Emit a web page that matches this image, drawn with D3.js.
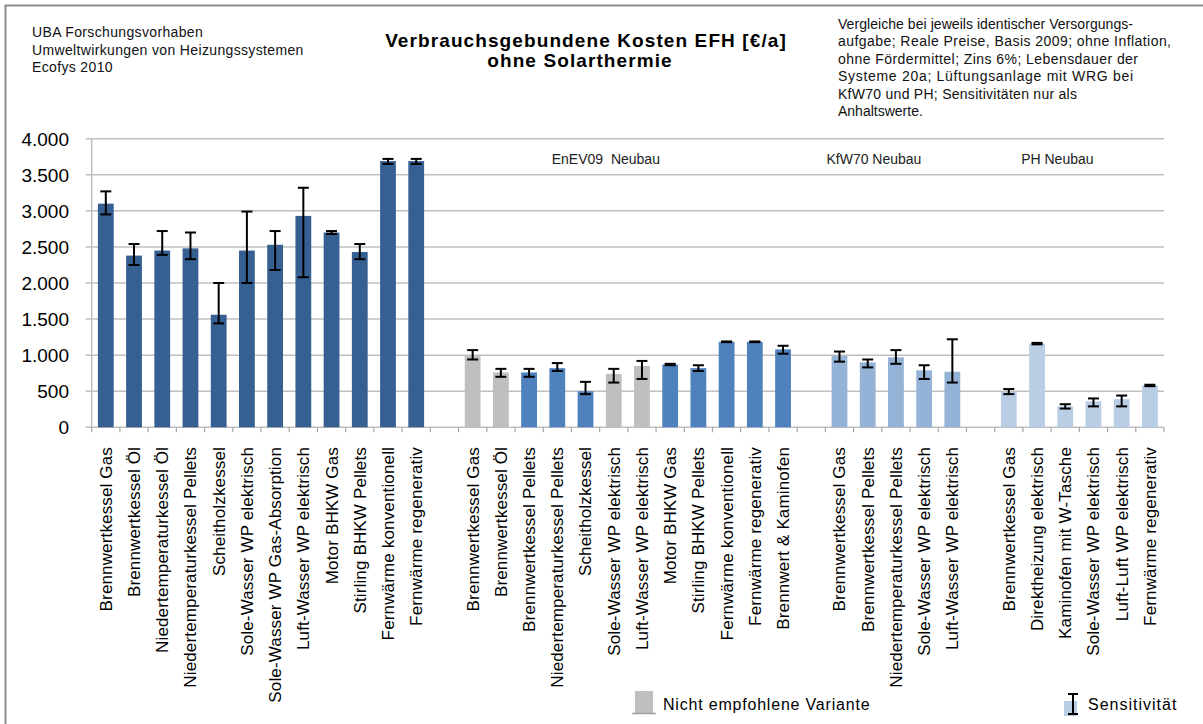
<!DOCTYPE html>
<html lang="de">
<head>
<meta charset="utf-8">
<title>Verbrauchsgebundene Kosten EFH</title>
<script src="https://cdn.jsdelivr.net/npm/d3@7"></script>
<style>
  body { margin: 0; background: #fff; }
  svg { display: block; font-family: "Liberation Sans", Arial, sans-serif; }
</style>
</head>
<body>
<div id="chart"></div>
<script>
// Bestand (erste Gruppe, ohne Überschrift)
const bestandNamen = ["Brennwertkessel Gas", "Brennwertkessel Öl", "Niedertemperaturkessel Öl",
  "Niedertemperaturkessel Pellets", "Scheitholzkessel", "Sole-Wasser WP elektrisch",
  "Sole-Wasser WP Gas-Absorption", "Luft-Wasser WP elektrisch", "Motor BHKW Gas",
  "Stirling BHKW  Pellets", "Fernwärme konventionell", "Fernwärme regenerativ"];
const bestandWerte = [3100, 2380, 2450, 2480, 1560, 2450, 2530, 2930, 2700, 2430, 3690, 3690];
const bestandOben  = [3270, 2540, 2720, 2700, 2000, 2990, 2720, 3320, 2720, 2540, 3720, 3720];
const bestandUnten = [2950, 2250, 2390, 2330, 1440, 2000, 2180, 2080, 2680, 2330, 3650, 3650];

// EnEV09 Neubau
const enevNamen = ["Brennwertkessel Gas", "Brennwertkessel Öl", "Brennwertkessel Pellets",
  "Niedertemperaturkessel Pellets", "Scheitholzkessel", "Sole-Wasser WP elektrisch",
  "Luft-Wasser WP elektrisch", "Motor BHKW Gas", "Stirling BHKW  Pellets",
  "Fernwärme konventionell", "Fernwärme regenerativ", "Brennwert & Kaminofen"];
const enevWerte = [1000, 760, 760, 820, 500, 740, 850, 870, 820, 1185, 1185, 1080];
const enevOben  = [1070, 810, 810, 890, 630, 810, 920, 880, 860, 1190, 1190, 1130];
const enevUnten = [940, 700, 700, 780, 460, 620, 670, 860, 780, 1180, 1180, 1020];
const enevNichtEmpfohlen = [true, true, false, false, false, true, true, false, false, false, false, false];

// KfW70 Neubau
const kfwNamen = ["Brennwertkessel Gas", "Brennwertkessel Pellets", "Niedertemperaturkessel Pellets",
  "Sole-Wasser WP elektrisch", "Luft-Wasser WP elektrisch"];
const kfwWerte = [990, 900, 970, 790, 770];
const kfwOben  = [1050, 940, 1070, 860, 1220];
const kfwUnten = [910, 830, 880, 670, 620];

// PH Neubau
const phNamen = ["Brennwertkessel Gas", "Direktheizung elektrisch", "Kaminofen mit W-Tasche",
  "Sole-Wasser WP elektrisch", "Luft-Luft WP elektrisch", "Fernwärme regenerativ"];
const phWerte = [490, 1160, 290, 360, 390, 580];
const phOben  = [530, 1170, 320, 400, 440, 590];
const phUnten = [460, 1150, 260, 290, 290, 570];

const gruppenTitel = ["", "EnEV09  Neubau", "KfW70 Neubau", "PH Neubau"];
const yTicks = [0, 500, 1000, 1500, 2000, 2500, 3000, 3500, 4000];

const width = 1203, height = 724;
const pLeft = 91.7, pRight = 1164, pTop = 138.7, pBottom = 427.3;

const svg = d3.select("#chart").append("svg")
  .attr("width", width).attr("height", height);

// Rahmen
svg.append("rect")
  .attr("x", 5.5).attr("y", 5.5).attr("width", 1210).attr("height", 730)
  .attr("fill", "none").attr("stroke", "#8c8c8c").attr("stroke-width", 2);

// Flache Liste mit Lücken zwischen den Gruppen
const gruppen = [
  { namen: bestandNamen, werte: bestandWerte, oben: bestandOben, unten: bestandUnten, farbe: "#376092" },
  { namen: enevNamen, werte: enevWerte, oben: enevOben, unten: enevUnten, farbe: "#4f81bd", grau: enevNichtEmpfohlen },
  { namen: kfwNamen, werte: kfwWerte, oben: kfwOben, unten: kfwUnten, farbe: "#95b3d7" },
  { namen: phNamen, werte: phWerte, oben: phOben, unten: phUnten, farbe: "#b9cde5" }
];
const rows = [];
gruppen.forEach((g, gi) => {
  if (gi > 0) rows.push({ key: "gap" + gi, gap: true });
  g.namen.forEach((n, i) => rows.push({
    key: gi + "-" + i, gruppe: gi, name: n, wert: g.werte[i], oben: g.oben[i], unten: g.unten[i],
    farbe: g.grau && g.grau[i] ? "#bfbfbf" : g.farbe
  }));
});

const x = d3.scaleBand().domain(rows.map(d => d.key)).range([pLeft, pRight]).paddingInner(0.44).paddingOuter(0.22);
const y = d3.scaleLinear().domain([0, 4000]).range([pBottom, pTop]);
const fmt = d3.formatLocale({ decimal: ",", thousands: ".", grouping: [3], currency: ["", "€"] }).format(",");

// Gitter + y-Achse
svg.append("g").selectAll("line").data(yTicks).join("line")
  .attr("x1", pLeft - 6).attr("x2", pRight)
  .attr("y1", d => y(d)).attr("y2", d => y(d))
  .attr("stroke", "#c0c0c0").attr("stroke-width", 1.5);

svg.append("g").selectAll("text").data(yTicks).join("text")
  .attr("x", 69).attr("y", d => y(d)).attr("dy", "0.36em")
  .attr("text-anchor", "end").attr("font-size", 19).attr("fill", "#000")
  .text(d => fmt(d));

svg.append("line").attr("x1", pLeft).attr("x2", pLeft).attr("y1", pTop).attr("y2", pBottom)
  .attr("stroke", "#c0c0c0").attr("stroke-width", 1.5);

// x-Achse mit Teilstrichen an den Kategoriegrenzen
const grenzen = d3.range(rows.length + 1).map(i => pLeft + i * (pRight - pLeft) / rows.length);
svg.append("g").selectAll("line").data(grenzen).join("line")
  .attr("x1", d => d).attr("x2", d => d).attr("y1", pBottom).attr("y2", pBottom + 5)
  .attr("stroke", "#a6a6a6").attr("stroke-width", 1.2);

// Balken
const daten = rows.filter(d => !d.gap);
svg.append("g").selectAll("rect").data(daten).join("rect")
  .attr("x", d => x(d.key)).attr("width", x.bandwidth())
  .attr("y", d => y(d.wert)).attr("height", d => y(0) - y(d.wert))
  .attr("fill", d => d.farbe);

// Fehlerbalken (Sensitivität)
const fb = svg.append("g").attr("stroke", "#000").attr("stroke-width", 2);
daten.forEach(d => {
  const cx = x(d.key) + x.bandwidth() / 2;
  fb.append("line").attr("x1", cx).attr("x2", cx).attr("y1", y(d.oben)).attr("y2", y(d.unten));
  fb.append("line").attr("x1", cx - 5.5).attr("x2", cx + 5.5).attr("y1", y(d.oben)).attr("y2", y(d.oben));
  fb.append("line").attr("x1", cx - 5.5).attr("x2", cx + 5.5).attr("y1", y(d.unten)).attr("y2", y(d.unten));
});

// Kategoriebeschriftung
svg.append("g").selectAll("text").data(daten).join("text")
  .attr("transform", d => `translate(${x(d.key) + x.bandwidth() / 2},447) rotate(-90)`)
  .attr("dy", "0.35em").attr("text-anchor", "end")
  .attr("font-size", 17).attr("letter-spacing", 0.15).attr("fill", "#000")
  .text(d => d.name);

// Gruppenüberschriften
gruppenTitel.forEach((t, gi) => {
  if (!t) return;
  const g = daten.filter(d => d.gruppe === gi);
  const mitte = (x(g[0].key) + x(g[g.length - 1].key) + x.bandwidth()) / 2 - 22;
  svg.append("text").attr("x", mitte).attr("y", 164)
    .attr("text-anchor", "middle").attr("font-size", 14).attr("fill", "#222")
    .attr("xml:space", "preserve")
    .text(t);
});

// Titel
svg.append("text").attr("x", 586).attr("y", 47).attr("text-anchor", "middle")
  .attr("font-size", 19).attr("letter-spacing", 1.1).attr("font-weight", "bold")
  .text("Verbrauchsgebundene Kosten EFH [€/a]");
svg.append("text").attr("x", 580).attr("y", 67).attr("text-anchor", "middle")
  .attr("font-size", 19).attr("letter-spacing", 1.1).attr("font-weight", "bold")
  .text("ohne Solarthermie");

// Quelle oben links
["UBA Forschungsvorhaben", "Umweltwirkungen von Heizungssystemen", "Ecofys 2010"].forEach((t, i) => {
  svg.append("text").attr("x", 32).attr("y", 37 + i * 17.5).attr("font-size", 14)
    .attr("letter-spacing", 0.35).attr("fill", "#111").text(t);
});

// Hinweis oben rechts (Blocksatz)
const hinweis = [
  ["Vergleiche bei jeweils identischer Versorgungs-", 295],
  ["aufgabe; Reale Preise, Basis 2009; ohne Inflation,", 333],
  ["ohne Fördermittel; Zins 6%; Lebensdauer der", 300],
  ["Systeme 20a; Lüftungsanlage mit WRG bei", 295],
  ["KfW70 und PH; Sensitivitäten nur als", 239],
  ["Anhaltswerte.", null]
];
hinweis.forEach(([t, w], i) => {
  const el = svg.append("text").attr("x", 838).attr("y", 29 + i * 17.4)
    .attr("font-size", 14).attr("fill", "#111").text(t);
  if (w) el.attr("textLength", w).attr("lengthAdjust", "spacing");
});

// Legende
svg.append("rect").attr("x", 635).attr("y", 691).attr("width", 18).attr("height", 22).attr("fill", "#bfbfbf");
svg.append("line").attr("x1", 632).attr("x2", 656).attr("y1", 713.5).attr("y2", 713.5)
  .attr("stroke", "#a0a0a0").attr("stroke-width", 1.5);
svg.append("text").attr("x", 663).attr("y", 710).attr("font-size", 16).attr("letter-spacing", 0.8)
  .attr("fill", "#000").text("Nicht empfohlene Variante");

svg.append("rect").attr("x", 1064).attr("y", 701).attr("width", 13).attr("height", 15).attr("fill", "#b9cde5");
const li = svg.append("g").attr("stroke", "#000").attr("stroke-width", 2);
li.append("line").attr("x1", 1073).attr("x2", 1073).attr("y1", 694).attr("y2", 714);
li.append("line").attr("x1", 1068).attr("x2", 1078).attr("y1", 694).attr("y2", 694);
li.append("line").attr("x1", 1068).attr("x2", 1078).attr("y1", 714).attr("y2", 714);
svg.append("text").attr("x", 1088).attr("y", 710).attr("font-size", 16).attr("letter-spacing", 1)
  .attr("fill", "#000").text("Sensitivität");
</script>
</body>
</html>
